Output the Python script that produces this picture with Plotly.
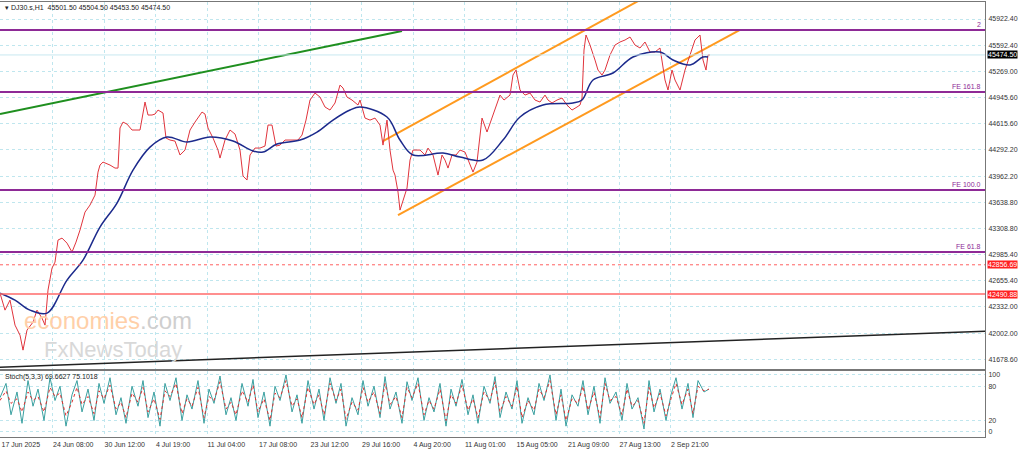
import plotly.graph_objects as go

bar = [0,5,10,15,20,23,27,33,37,42,45,48,52,55,58,62,67,72,76,80,85,90,95,98,100,103,110,115,118,120,123,127,132,137,140,145,148,152,155,158,163,166,170,175,180,185,190,195,200,202,205,208,213,218,220,225,230,235,240,243,247,250,255,260,265,268,272,276,280,285,290,298,302,306,310,315,320,325,330,335,340,343,347,352,358,
       360,365,370,375,380,383,387,390,393,395,398,400,403,407,410,413,416,420,425,428,433,438,442,445,448,452,456,460,465,470,473,477,482,487,492,497,500,504,510,513,516,520,525,530,535,540,545,548,552,557,562,567,572,577,580,582,584,586,590,595,598,602,605,610,615,620,625,630,635,640,645,650,655,660,665,668,672,675,680,685,690,695,700,703,706,708,710]
close = [42503,42291,42416,42104,41979,41792,42042,42141,42291,42191,42104,42541,42815,42890,43165,43190,43127,43015,43140,43290,43514,43602,43726,44013,44101,44138,44101,44063,44063,44563,44637,44612,44538,44538,44538,44887,44725,44725,44737,44787,44750,44438,44413,44400,44226,44288,44538,44637,44725,44762,44737,44563,44438,44288,44188,44413,44538,44488,44288,43964,43914,44226,44313,44313,44338,44600,44600,44338,44350,44413,44413,44413,44475,44662,44912,44999,44949,44825,44787,44875,45099,45062,44949,44912,44850,
         44912,44687,44662,44687,44600,44350,44662,44288,44038,43976,43764,43539,43664,43814,44163,44288,44288,44288,44226,44313,44226,43976,44226,44163,44063,44226,44226,44288,44263,44101,44013,44138,44687,44513,44687,44887,44974,44912,44974,45224,45286,45037,44974,44999,44912,44887,44974,44912,44875,44912,44937,44850,44787,44825,44850,44937,45536,45723,45598,45411,45286,45224,45286,45474,45598,45636,45661,45698,45598,45561,45636,45511,45511,45561,45162,45037,45286,45162,45037,45286,45474,45661,45723,45411,45286,45474,45474.5]

ma_bar = [0,15,30,47,67,83,100,117,133,150,167,187,210,233,253,263,277,300,317,333,350,360,387,400,413,443,460,483,503,520,543,573,582,593,613,633,660,673,690,703,708]
ma_val = [42503,42416,42291,42254,42666,42915,43327,43627,44038,44325,44450,44388,44450,44400,44276,44263,44363,44413,44513,44662,44787,44825,44700,44413,44226,44251,44201,44163,44413,44700,44850,44875,44912,45162,45249,45449,45511,45411,45349,45449,45449]

st_bar = [0,6,11,17,22,28,33,38,44,50,55,60,66,72,77,82,88,94,99,104,110,116,121,126,132,138,143,148,154,160,165,170,176,182,187,192,198,204,209,214,220,226,231,236,242,248,253,258,264,270,275,280,286,292,297,302,308,314,319,324,330,336,341,346,352,358,363,368,374,380,385,390,396,402,407,412,418,424,429,434,440,446,451,456,462,468,473,478,484,490,495,500,506,512,517,522,528,534,539,544,550,556,561,566,572,578,583,588,594,600,605,610,616,622,627,632,638,644,649,654,660,666,671,676,682,688,693,698,704,709]
st_main = [60,85,30,70,15,90,45,75,20,95,55,80,10,65,90,35,75,20,85,50,95,30,60,15,80,45,90,25,70,10,85,55,95,20,65,40,90,15,75,50,98,30,60,20,85,45,92,25,70,10,80,55,100,35,65,15,90,40,75,20,95,50,85,10,60,30,90,45,80,25,97,40,70,15,88,55,95,20,60,35,85,10,75,45,92,30,65,15,80,50,97,25,70,40,90,15,60,30,85,55,100,20,75,10,65,45,90,30,80,15,95,50,70,20,85,40,60,5,90,35,75,20,65,95,40,85,25,90,70,75]
st_sig = [55,72,50,58,35,70,55,62,35,78,62,68,28,52,78,48,62,32,72,58,82,40,52,25,68,52,78,35,58,22,72,62,85,32,58,45,78,25,62,55,88,40,52,30,72,52,82,35,58,20,68,60,90,45,58,25,78,48,65,30,85,55,75,22,52,38,78,52,70,32,85,48,62,25,78,60,85,30,55,40,75,20,65,50,82,38,58,25,70,55,88,35,62,45,80,25,55,38,75,60,90,30,65,20,58,50,80,38,70,25,85,55,62,30,75,45,55,15,78,42,68,28,58,85,48,75,32,80,72,75]

hlevels = [45786, 45012, 43789, 43015]
hlabels = ["2", "FE 161.8", "FE 100.0", "FE 61.8"]
red_dot, red_solid, last_price = 42856.69, 42490.88, 45474.50
ytick_vals = [45922.40,45592.40,45269.00,44945.60,44615.60,44292.20,43962.20,43638.80,43308.80,42985.40,42655.40,42332.00,42002.00,41678.60]
xtick_pos = [1,52.5,104,155.5,207,258.5,310,361.5,413,464.5,516,567.5,619,670.5]
xtick_txt = ["17 Jun 2025","24 Jun 08:00","30 Jun 12:00","4 Jul 19:00","11 Jul 04:00","17 Jul 08:00","23 Jul 12:00","29 Jul 16:00","4 Aug 20:00","11 Aug 01:00","15 Aug 05:00","21 Aug 09:00","27 Aug 13:00","2 Sep 21:00"]
green_x, green_y = [0, 402], [44737, 45773]
black_x, black_y = [0, 985], [41580, 42029]
orange_up_x, orange_up_y = [383, 640], [44400, 46160]
orange_lo_x, orange_lo_y = [398, 740], [43477, 45786]

FONT = "Liberation Sans"
fig = go.Figure()
grid = dict(showgrid=True, gridcolor="#bfe6ee", griddash="dot", gridwidth=1)
for lv in hlevels:
    fig.add_hline(y=lv, line=dict(color="#8e2a96", width=2), yref="y")
fig.add_hline(y=red_dot, line=dict(color="#ff6060", width=1, dash="dot"))
fig.add_hline(y=red_solid, line=dict(color="#ff6a6a", width=1.5))
fig.add_hline(y=last_price, line=dict(color="#c8e8f0", width=1))
fig.add_trace(go.Scatter(x=green_x, y=green_y, mode="lines", line=dict(color="#1f8f1f", width=2)))
fig.add_trace(go.Scatter(x=black_x, y=black_y, mode="lines", line=dict(color="#222", width=1.5)))
fig.add_trace(go.Scatter(x=orange_up_x, y=orange_up_y, mode="lines", line=dict(color="#ff9a1f", width=2)))
fig.add_trace(go.Scatter(x=orange_lo_x, y=orange_lo_y, mode="lines", line=dict(color="#ff9a1f", width=2)))
fig.add_trace(go.Scatter(x=bar, y=close, mode="lines", line=dict(color="#e0343c", width=1)))
fig.add_trace(go.Scatter(x=ma_bar, y=ma_val, mode="lines", line=dict(color="#1c2a8c", width=1.5, shape="spline")))
fig.add_trace(go.Scatter(x=st_bar, y=st_main, mode="lines", line=dict(color="#3aa0a0", width=1), xaxis="x2", yaxis="y2"))
fig.add_trace(go.Scatter(x=st_bar, y=st_sig, mode="lines", line=dict(color="#e03030", width=1, dash="dot"), xaxis="x2", yaxis="y2"))

anns = [dict(x=983, y=lv, xref="x", yref="y", text=t, showarrow=False, xanchor="right", yanchor="bottom",
             font=dict(size=7, color="#8e2a96", family=FONT)) for lv, t in zip(hlevels, hlabels)]
for v, bg in [(red_dot, "#ff2020"), (red_solid, "#ff2020"), (last_price, "#000000")]:
    anns.append(dict(x=1.002, xref="paper", y=v, yref="y", text=f"{v:.2f}", showarrow=False, xanchor="left",
                     bgcolor=bg, font=dict(size=7, color="white", family=FONT), borderpad=0))
anns.append(dict(x=3, y=1.0, xref="x", yref="paper", text="▾ DJ30.s,H1  45501.50 45504.50 45453.50 45474.50",
                 showarrow=False, xanchor="left", yanchor="top", font=dict(size=7, color="#222", family=FONT)))
anns.append(dict(x=3, y=107, xref="x", yref="y2", text="Stoch(5,3,3) 69.6627 75.1018", showarrow=False,
                 xanchor="left", yanchor="top", font=dict(size=7, color="#222", family=FONT)))
anns.append(dict(x=22, y=42160, xref="x", yref="y", text="economies<span style='color:#cfcfcf'>.com</span>", showarrow=False,
                 xanchor="left", font=dict(size=24, color="#ffcfa8", family=FONT)))
anns.append(dict(x=42, y=41800, xref="x", yref="y", text="FxNewsToday", showarrow=False,
                 xanchor="left", font=dict(size=22, color="#d8d8d8", family=FONT)))
fig.update_layout(
    width=1024, height=449, margin=dict(l=0, r=39, t=2, b=12),
    paper_bgcolor="white", plot_bgcolor="white", showlegend=False, annotations=anns,
    xaxis=dict(range=[0, 985], domain=[0, 1], tickvals=xtick_pos, ticktext=xtick_txt, showticklabels=False,
               anchor="y", showline=True, linecolor="#777", mirror=True, zeroline=False, **grid),
    yaxis=dict(domain=[0.156, 1], range=[41555, 46135], side="right", tickvals=ytick_vals,
               ticktext=[f"{v:.2f}" for v in ytick_vals], tickfont=dict(size=7, color="#333", family=FONT),
               ticklabelstandoff=1,
               showline=True, linecolor="#777", mirror=True, zeroline=False, **grid),
    xaxis2=dict(range=[0, 985], domain=[0, 1], tickvals=xtick_pos, ticktext=xtick_txt, anchor="y2",
                tickfont=dict(size=7, color="#333", family=FONT), ticks="", ticklabelposition="outside right",
                ticklabelstandoff=1, showline=True,
                linecolor="#777", mirror=True, zeroline=False, **grid),
    yaxis2=dict(domain=[0, 0.152], range=[-9, 107], side="right", tickvals=[0, 20, 80, 100],
                tickfont=dict(size=7, color="#333", family=FONT), ticklabelstandoff=1, showline=True, linecolor="#777",
                mirror=True, zeroline=False, **grid),
)
fig.write_html("out.html", config={"displayModeBar": False})
with open("out.html", encoding="utf-8") as f:
    html = f.read()
html = html.replace("<head>", "<head><style>html,body{margin:0;padding:0;overflow:hidden}</style>", 1)
with open("out.html", "w", encoding="utf-8") as f:
    f.write(html)
